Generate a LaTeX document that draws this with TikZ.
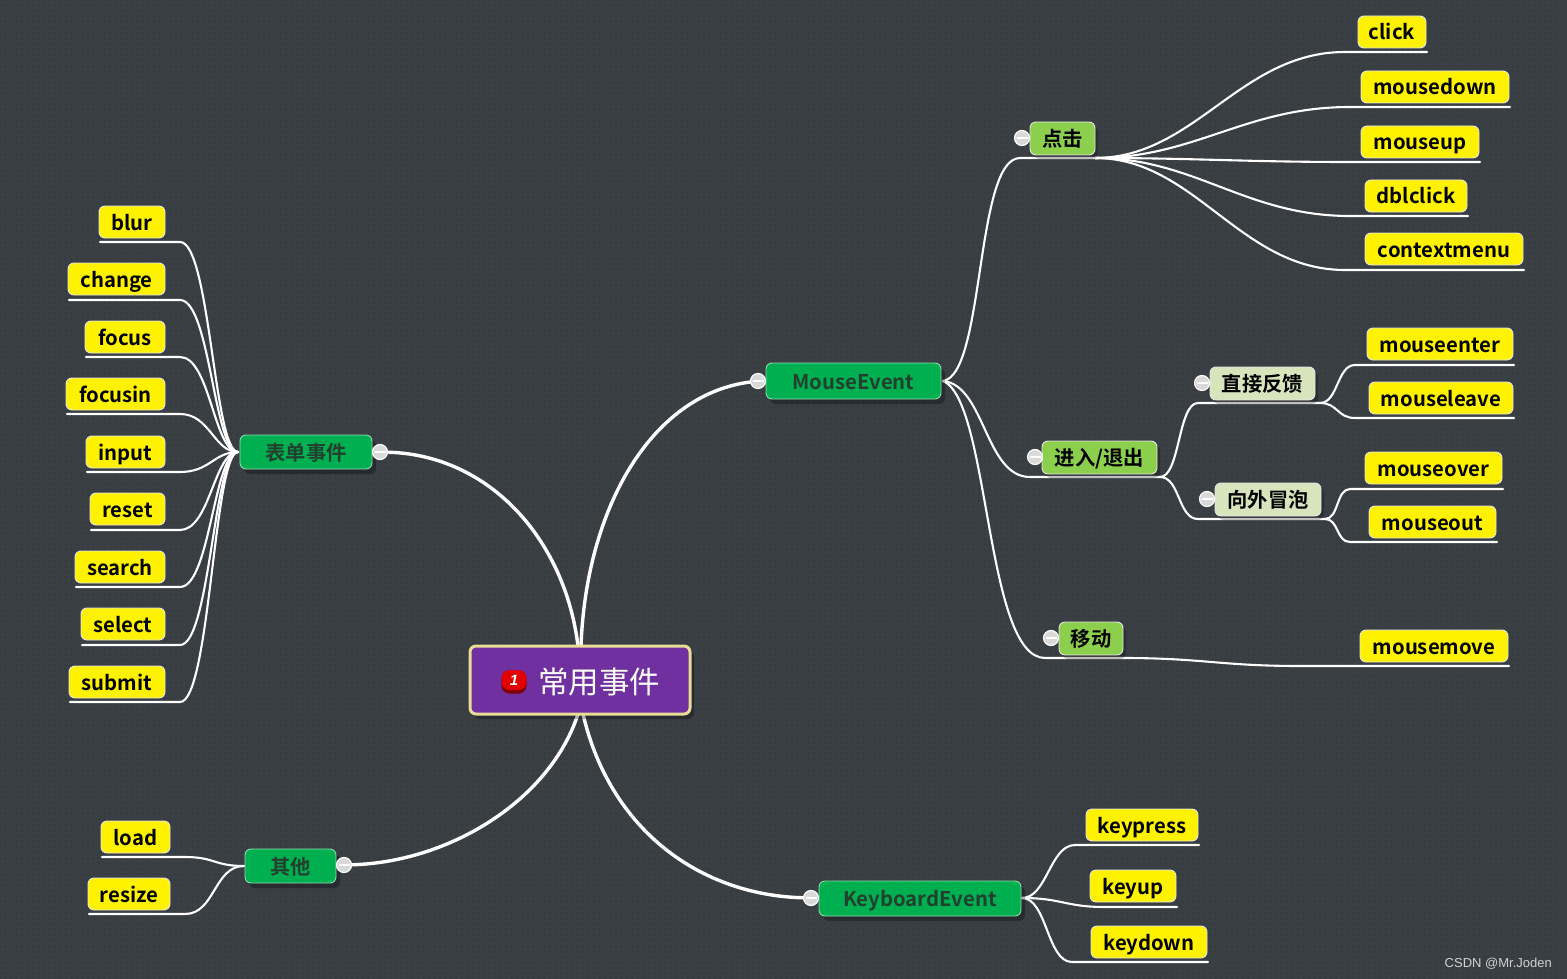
\documentclass[tikz,border=0pt]{standalone}
\usepackage{fontspec}
\setmainfont{Noto Sans CJK SC}[BoldFont={Noto Sans CJK SC Bold}]
\setsansfont{Liberation Sans}
\usetikzlibrary{shadows,patterns.meta}
\pgfdeclarelayer{back}
\pgfsetlayers{back,main}
\definecolor{bgc}{HTML}{3A3F44}
\definecolor{dotc}{HTML}{32373C}
\definecolor{gmain}{HTML}{00B050}
\definecolor{gtext}{HTML}{23402F}
\definecolor{glight}{HTML}{8CCF4D}
\definecolor{gpale}{HTML}{D8E4BC}
\definecolor{rootc}{HTML}{7030A0}
\definecolor{rootb}{HTML}{E8DC96}
\tikzset{x=1pt,y=-1pt,
  box/.style={draw=white!80!gray,line width=.9pt,rounded corners=6pt,inner sep=0pt,text height=17pt,text depth=1pt,font=\bfseries\fontsize{20.3}{24}\selectfont,text=black},
  leafbox/.style={box,fill=yellow},
  mainbox/.style={box,fill=gmain,text=gtext,draw=white!55!gmain,drop shadow={shadow xshift=4pt,shadow yshift=-5pt,fill=black,opacity=.3}},
  subbox/.style={box,fill=glight,drop shadow={shadow xshift=3pt,shadow yshift=-4pt,fill=black,opacity=.25}},
  palebox/.style={box,fill=gpale,drop shadow={shadow xshift=3pt,shadow yshift=-4pt,fill=black,opacity=.25}},
  link/.style={draw=white,line width=2.1pt,line cap=round},
  thick link/.style={draw=white,line width=3.4pt,line cap=round},
  fold/.style={circle,draw=white,line width=1.2pt,fill=gray!30,minimum size=15pt,inner sep=0pt,path picture={\draw[white,line width=1.4pt] ([xshift=-5.5pt]path picture bounding box.center)--([xshift=5.5pt]path picture bounding box.center);}},
}
% \bx{name}{style}{l}{t}{r}{b}{text}
\newcommand{\bx}[7]{%
  \pgfmathsetmacro{\bw}{#5-#3}\pgfmathsetmacro{\bh}{#6-#4}%
  \pgfmathsetmacro{\bcx}{(#3+#5)/2}\pgfmathsetmacro{\bcy}{(#4+#6)/2}%
  \node[#2,minimum width=\bw pt,minimum height=\bh pt] (#1) at (\bcx,\bcy) {#7};}
\begin{document}
\begin{tikzpicture}
\useasboundingbox (0,0) rectangle (1567,979);
\begin{pgfonlayer}{back}
\fill[bgc] (0,0) rectangle (1567,979);
\fill[pattern={Dots[radius=.8pt,distance=5.5pt]},pattern color=dotc] (0,0) rectangle (1567,979);
\end{pgfonlayer}

% boxes
\bx{root}{box,fill=rootc,draw=rootb,line width=3pt,rounded corners=6pt,text=white,text height=28pt,text depth=1pt,font=\fontsize{30.5}{36}\selectfont,drop shadow={shadow xshift=4pt,shadow yshift=-5pt,fill=black,opacity=.3}}{470}{646}{690}{714}{\hspace*{38pt}常用事件}
\node[fill=red!50!black,rounded corners=8pt,minimum width=25pt,minimum height=23pt,inner sep=0pt] (badgeb) at (514,682) {};
\node[fill=red!88!black,rounded corners=8pt,minimum width=25pt,minimum height=20pt,inner sep=0pt,text=white,font=\sffamily\bfseries\itshape\fontsize{15}{16}\selectfont] (badge) at (514,680) {1};

\bx{mouse}{mainbox}{766}{363}{941}{399}{MouseEvent}
\bx{keyb}{mainbox}{819}{881}{1021}{916}{KeyboardEvent}
\bx{form}{mainbox}{240}{435}{372}{469}{表单事件}
\bx{other}{mainbox}{245}{849}{336}{883}{其他}
\bx{click}{subbox}{1030}{122}{1095}{155}{点击}
\bx{enter}{subbox}{1042}{441}{1157}{474}{进入/退出}
\bx{move}{subbox}{1059}{622}{1123}{655}{移动}
\bx{direct}{palebox}{1210}{367}{1315}{400}{直接反馈}
\bx{bubble}{palebox}{1215}{483}{1321}{516}{向外冒泡}

\bx{a1}{leafbox}{1358}{16}{1426}{48}{click}
\bx{a2}{leafbox}{1361}{71}{1509}{103}{mousedown}
\bx{a3}{leafbox}{1361}{126}{1479}{158}{mouseup}
\bx{a4}{leafbox}{1365}{180}{1467}{212}{dblclick}
\bx{a5}{leafbox}{1365}{233}{1523}{265}{contextmenu}
\bx{b1}{leafbox}{1367}{328}{1513}{360}{mouseenter}
\bx{b2}{leafbox}{1369}{382}{1513}{414}{mouseleave}
\bx{c1}{leafbox}{1365}{452}{1502}{484}{mouseover}
\bx{c2}{leafbox}{1369}{506}{1496}{538}{mouseout}
\bx{d1}{leafbox}{1360}{630}{1508}{662}{mousemove}
\bx{k1}{leafbox}{1086}{809}{1198}{841}{keypress}
\bx{k2}{leafbox}{1090}{870}{1176}{902}{keyup}
\bx{k3}{leafbox}{1091}{926}{1207}{958}{keydown}
\bx{f1}{leafbox}{99}{206}{165}{238}{blur}
\bx{f2}{leafbox}{68}{263}{165}{295}{change}
\bx{f3}{leafbox}{85}{321}{165}{353}{focus}
\bx{f4}{leafbox}{66}{378}{165}{410}{focusin}
\bx{f5}{leafbox}{86}{436}{165}{468}{input}
\bx{f6}{leafbox}{90}{493}{165}{525}{reset}
\bx{f7}{leafbox}{75}{551}{165}{583}{search}
\bx{f8}{leafbox}{81}{608}{165}{640}{select}
\bx{f9}{leafbox}{69}{666}{165}{698}{submit}
\bx{o1}{leafbox}{101}{821}{170}{853}{load}
\bx{o2}{leafbox}{88}{878}{170}{910}{resize}

% fold marks
\node[fold] (fm) at (758,381) {};
\node[fold] (fk) at (811,898) {};
\node[fold] (ff) at (380,452) {};
\node[fold] (fo) at (344,865) {};
\node[fold] (fc) at (1022,138) {};
\node[fold] (fe) at (1035,457) {};
\node[fold] (fv) at (1051,638) {};
\node[fold] (fd) at (1202,383) {};
\node[fold] (fb) at (1207,499) {};

\node[text=white!65!gray,font=\sffamily\fontsize{13}{16}\selectfont,inner sep=0pt,anchor=east] (mark) at (1552,964) {CSDN @Mr.Joden};

% named ends of the underlines: -a where the curve arrives, -b the far end
\foreach \n/\rx/\ry/\lx in {a1/1427/52/1345,a2/1510/107/1350,a3/1480/162/1350,a4/1468/216/1350,a5/1524/270/1345,
  b1/1514/365/1355,b2/1514/418/1355,c1/1503/489/1350,c2/1497/542/1350,d1/1509/666/1300,
  k1/1199/845/1075,k2/1177/907/1105,k3/1208/962/1072,
  f1/100/242/180,f2/69/300/180,f3/86/357/180,f4/67/414/180,f5/87/472/180,f6/91/530/180,f7/76/587/180,f8/82/645/180,f9/70/702/180,
  o1/102/857/185,o2/89/914/185}{
  \coordinate (\n-a) at (\lx,\ry);
  \coordinate (\n-b) at (\rx,\ry);
}
\coordinate (jc) at (1095,158); \coordinate (jcl) at (1020,158);
\coordinate (je) at (1160,477); \coordinate (jel) at (1030,477);
\coordinate (jv) at (1123,658); \coordinate (jvl) at (1045,658);
\coordinate (jd) at (1320,403); \coordinate (jdl) at (1198,403);
\coordinate (jb) at (1325,519); \coordinate (jbl) at (1198,519);
\coordinate (jm) at (943,381);
\coordinate (jk) at (1022,898);
\coordinate (jf) at (238,452);
\coordinate (jo) at (244,866);
\coordinate (rn1) at (578,646); \coordinate (rn2) at (581,646);
\coordinate (rs1) at (578,714); \coordinate (rs2) at (583,714);

\begin{pgfonlayer}{back}
% main branches
\draw[thick link] (rn2) .. controls (586,510) and (650,395) .. (fm);
\draw[thick link] (rn1) .. controls (565,540) and (490,455) .. (ff);
\draw[thick link] (rs2) .. controls (610,830) and (700,895) .. (fk);
\draw[thick link] (rs1) .. controls (550,800) and (450,862) .. (fo);
% MouseEvent
\draw[link] (jm) .. controls (985,375) and (975,158) .. (jcl) -- (jc);
\draw[link] (jm) .. controls (985,385) and (985,477) .. (jel) -- (je);
\draw[link] (jm) .. controls (990,400) and (985,658) .. (jvl) -- (jv);
% click
\foreach \n in {a1,a2,a3,a4,a5}
  \draw[link] (jc) .. controls +(100,0) and +(-105,0) .. (\n-a) -- (\n-b);
% enter / leave
\draw[link] (je) .. controls +(20,0) and +(-20,0) .. (jdl) -- (jd);
\draw[link] (je) .. controls +(20,0) and +(-20,0) .. (jbl) -- (jb);
\foreach \n in {b1,b2}
  \draw[link] (jd) .. controls +(18,0) and +(-18,0) .. (\n-a) -- (\n-b);
\foreach \n in {c1,c2}
  \draw[link] (jb) .. controls +(14,0) and +(-14,0) .. (\n-a) -- (\n-b);
\draw[link] (jv) .. controls +(80,0) and +(-80,0) .. (d1-a) -- (d1-b);
% keyboard
\draw[link] (jk) .. controls +(25,0) and +(-25,0) .. (k1-a) -- (k1-b);
\draw[link] (jk) .. controls +(40,0) and +(-40,0) .. (k2-a) -- (k2-b);
\draw[link] (jk) .. controls +(25,0) and +(-25,0) .. (k3-a) -- (k3-b);
% form
\foreach \n in {f1,f2,f3,f4,f5,f6,f7,f8,f9}
  \draw[link] (jf) .. controls +(-24,0) and +(30,0) .. (\n-a) -- (\n-b);
% other
\draw[link] (jo) .. controls +(-30,0) and +(30,0) .. (o1-a) -- (o1-b);
\draw[link] (jo) .. controls +(-30,0) and +(30,0) .. (o2-a) -- (o2-b);
\end{pgfonlayer}
\end{tikzpicture}
\end{document}
